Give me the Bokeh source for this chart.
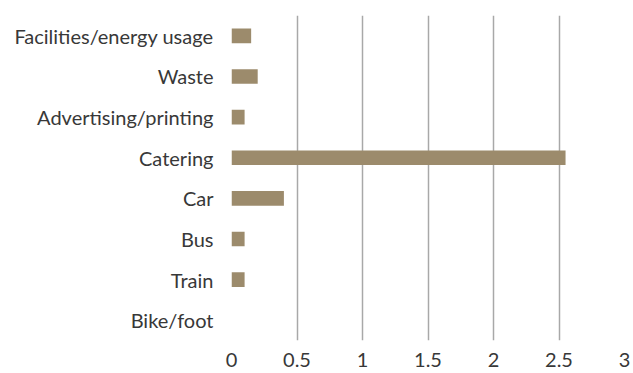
from bokeh.plotting import figure
from bokeh.models import Range1d, FactorRange
from bokeh.embed import file_html
from bokeh.resources import INLINE

# Emissions by source (top to bottom as listed)
categories = ["Facilities/energy usage", "Waste", "Advertising/printing", "Catering",
              "Car", "Bus", "Train", "Bike/foot"]
values = [0.15, 0.2, 0.1, 2.55, 0.4, 0.1, 0.1, 0.0]
x_ticks = [0, 0.5, 1, 1.5, 2, 2.5, 3]
x_tick_labels = ["0", "0.5", "1", "1.5", "2", "2.5", "3"]

bar_color = "#9c8b6c"
text_color = "#383838"
font = "Lato"
font_size = "20px"

y_factors = list(reversed(categories))

p = figure(width=633, height=373, output_backend="svg", toolbar_location=None,
           y_range=FactorRange(factors=y_factors, range_padding=0),
           x_range=Range1d(0, 3))
p.min_border_left = 231
p.min_border_right = 9
p.min_border_top = 15
p.min_border_bottom = 33
p.outline_line_color = None
p.background_fill_color = "white"
p.border_fill_color = "white"

p.hbar(y=categories, right=values, left=0, height=0.36,
       fill_color=bar_color, line_color=None)

p.xaxis.ticker = x_ticks
p.xaxis.major_label_overrides = dict(zip(x_ticks, x_tick_labels))
p.xaxis.axis_line_color = None
p.xaxis.major_tick_line_color = None
p.xaxis.minor_tick_line_color = None
p.xaxis.major_label_standoff = 6
p.xaxis.major_label_text_font = font
p.xaxis.major_label_text_font_size = font_size
p.xaxis.major_label_text_color = text_color

p.yaxis.axis_line_color = None
p.yaxis.major_tick_line_color = None
p.yaxis.major_label_standoff = 12
p.yaxis.major_label_text_font = font
p.yaxis.major_label_text_font_size = font_size
p.yaxis.major_label_text_color = text_color

p.xgrid.ticker = x_ticks
p.xgrid.grid_line_color = "#a8a8a8"
p.xgrid.grid_line_width = 1.5
p.ygrid.grid_line_color = None

open("out.html", "w").write(file_html(p, INLINE))
